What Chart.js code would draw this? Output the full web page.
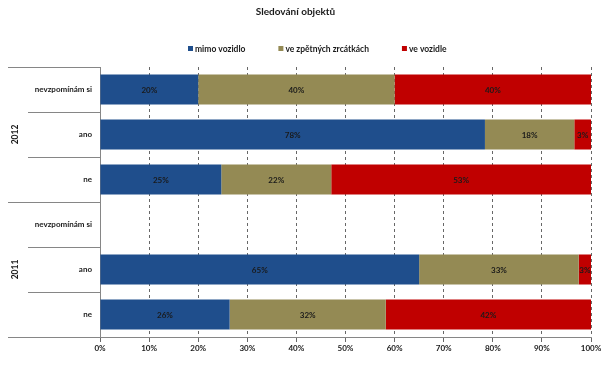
<!DOCTYPE html>
<html>
<head>
<meta charset="utf-8">
<script src="https://cdn.jsdelivr.net/npm/chart.js@4.4.1/dist/chart.umd.min.js"></script>
<style>
  html, body { margin: 0; padding: 0; background: #fff; }
  #wrap { width: 604px; height: 370px; }
</style>
</head>
<body>
<div id="wrap"><canvas id="chart"></canvas></div>
<script>
/* ---- Data ---- */
const chartTitle = "Sledování objektů";
const categories = ["nevzpomínám si", "ano", "ne", "nevzpomínám si", "ano", "ne"];
const groups = [
  { label: "2012", from: 0, to: 2 },
  { label: "2011", from: 3, to: 5 }
];
const seriesNames = ["mimo vozidlo", "ve zpětných zrcátkách", "ve vozidle"];
const mimoVozidlo   = [20, 78.4, 24.7, null, 65.0, 26.4];
const zpetnaZrcatka = [40, 18.2, 22.4, null, 32.5, 31.8];
const veVozidle     = [40, 3.4, 52.9, null, 2.5, 41.8];
const xTicks = [0, 10, 20, 30, 40, 50, 60, 70, 80, 90, 100];

/* ---- Palette ---- */
const palette = {
  blue: "#1F4E8C",
  olive: "#948A54",
  red: "#C00000",
  axis: "#868686",
  grid: "#404040",
  text: "#1a1a1a"
};
const fontFamily = "Lato, 'Open Sans', sans-serif";

/* ---- Plugin: data labels, legend, two-level category axis ---- */
const decorations = {
  id: "decorations",
  afterDatasetsDraw(chart) {
    const ctx = chart.ctx;
    ctx.save();
    ctx.font = "bold 8px " + fontFamily;
    ctx.fillStyle = palette.text;
    ctx.textAlign = "center";
    ctx.textBaseline = "middle";
    chart.data.datasets.forEach((ds, di) => {
      chart.getDatasetMeta(di).data.forEach((bar, i) => {
        const v = ds.data[i];
        if (v == null) return;
        ctx.fillText(Math.round(v) + "%", (bar.x + bar.base) / 2, bar.y + 0.5);
      });
    });
    ctx.restore();
  },
  afterDraw(chart) {
    const ctx = chart.ctx;
    const y = chart.scales.y;
    const area = chart.chartArea;
    ctx.save();

    // category separators
    const edge = i => i < 0 ? area.top
      : i >= categories.length - 1 ? area.bottom
      : (y.getPixelForValue(i) + y.getPixelForValue(i + 1)) / 2;
    ctx.strokeStyle = palette.axis;
    ctx.lineWidth = 1;
    for (let i = -1; i < categories.length; i++) {
      const py = Math.round(edge(i)) + 0.5;
      const isGroupEdge = i === -1 || groups.some(g => g.to === i);
      ctx.beginPath();
      ctx.moveTo(isGroupEdge ? 8 : 28, py);
      ctx.lineTo(area.left, py);
      ctx.stroke();
    }

    // group labels
    ctx.font = "bold 8.5px " + fontFamily;
    ctx.fillStyle = palette.text;
    ctx.textAlign = "center";
    ctx.textBaseline = "middle";
    groups.forEach(g => {
      const cy = (edge(g.from - 1) + edge(g.to)) / 2;
      ctx.save();
      ctx.translate(15, cy);
      ctx.rotate(-Math.PI / 2);
      ctx.fillText(g.label, 0, 0);
      ctx.restore();
    });

    // legend
    ctx.font = "bold 8.5px " + fontFamily;
    ctx.textAlign = "left";
    let lx = 188;
    const ly = 49;
    chart.data.datasets.forEach(ds => {
      ctx.fillStyle = ds.backgroundColor;
      ctx.fillRect(lx, ly - 3, 5, 5);
      ctx.fillStyle = palette.text;
      ctx.fillText(ds.label, lx + 7, ly);
      lx += 7 + ctx.measureText(ds.label).width + 33;
    });
    ctx.restore();
  }
};

/* ---- Chart ---- */
const barStyle = { barPercentage: 0.667, categoryPercentage: 1, borderWidth: 0 };

new Chart(document.getElementById("chart"), {
  type: "bar",
  data: {
    labels: categories,
    datasets: [
      { label: seriesNames[0], data: mimoVozidlo, backgroundColor: palette.blue, ...barStyle },
      { label: seriesNames[1], data: zpetnaZrcatka, backgroundColor: palette.olive, ...barStyle },
      { label: seriesNames[2], data: veVozidle, backgroundColor: palette.red, ...barStyle }
    ]
  },
  options: {
    indexAxis: "y",
    responsive: true,
    maintainAspectRatio: false,
    animation: false,
    layout: { padding: { left: 0, right: 13, top: 0, bottom: 0 } },
    plugins: {
      legend: { display: false },
      tooltip: { enabled: false },
      title: {
        display: true,
        text: chartTitle,
        color: palette.text,
        font: { family: fontFamily, size: 10, weight: "bold", lineHeight: 1.2 },
        padding: { top: 6, bottom: 49 }
      }
    },
    scales: {
      x: {
        stacked: true,
        min: 0,
        max: 100,
        afterBuildTicks: s => { s.ticks = xTicks.map(v => ({ value: v })); },
        afterFit: s => { s.height = 33; },
        border: { display: true, color: palette.axis, width: 1, dash: [3, 3] },
        grid: {
          color: palette.grid,
          lineWidth: 0.8,
          tickLength: 5,
          tickColor: palette.grid
        },
        ticks: {
          padding: 2,
          color: palette.text,
          font: { family: fontFamily, size: 8, weight: "bold" },
          callback: v => v + "%"
        }
      },
      y: {
        stacked: true,
        afterFit: s => { s.width = 100; },
        border: { display: true, color: palette.axis, width: 1 },
        grid: { display: false, drawTicks: false },
        ticks: {
          padding: 8,
          color: palette.text,
          font: { family: fontFamily, size: 8, weight: "bold" }
        }
      }
    }
  },
  plugins: [decorations]
});
</script>
</body>
</html>
